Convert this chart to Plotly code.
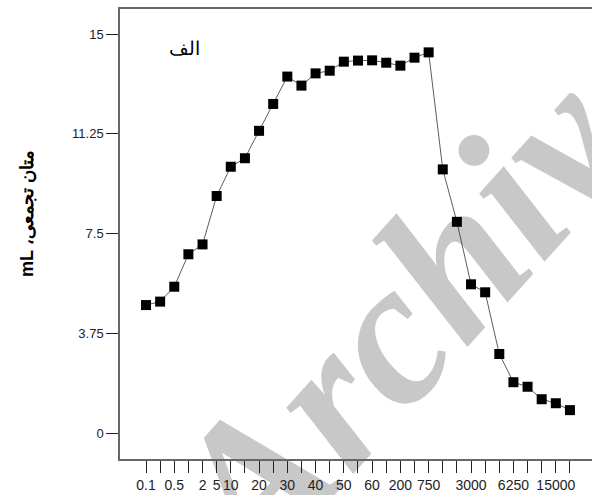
import plotly.graph_objects as go

# ---- data ----
x_labels = ["0.1", "", "0.5", "", "2", "5", "10", "", "20", "", "30", "", "40", "",
            "50", "", "60", "", "200", "", "750", "", "", "3000", "", "", "6250", "",
            "", "15000", ""]
volume = [4.81, 4.94, 5.50, 6.72, 7.09, 8.91, 10.01, 10.33, 11.36, 12.37, 13.40,
          13.06, 13.52, 13.62, 13.96, 14.00, 14.01, 13.92, 13.81, 14.11, 14.31,
          9.91, 7.94, 5.59, 5.29, 2.97, 1.91, 1.74, 1.27, 1.12, 0.86]
y_ticks = [0, 3.75, 7.5, 11.25, 15]
y_ticktext = ["0", "3.75", "7.5", "11.25", "15"]
panel_label = "الف"
y_title = "\u202bمتان تجمعی، mL\u202c"
watermark = "Archive"

x_idx = list(range(len(volume)))

W, H = 592, 495
L, R, T, B = 120, 0, 9, 36
pw, ph = W - L - R, H - T - B

def px(xp):
    return (xp - L) / pw

def py(yp):
    return (H - B - yp) / ph

fig = go.Figure()
fig.add_trace(go.Scatter(
    x=x_idx, y=volume, mode="lines+markers",
    line=dict(color="#333333", width=0.8),
    marker=dict(symbol="square", size=10, color="black"),
    showlegend=False, hoverinfo="skip"))

fig.update_layout(
    width=W, height=H,
    margin=dict(l=L, r=R, t=T, b=B, pad=0),
    paper_bgcolor="white", plot_bgcolor="white",
    font=dict(family="Arial", color="#222222"),
    xaxis=dict(range=[-1.84, 31.56], tickmode="array", tickvals=x_idx, ticktext=x_labels,
               ticks="outside", ticklen=12, tickwidth=1, tickcolor="#222222",
               showline=True, linecolor="#666666", linewidth=1.5, mirror=True,
               showgrid=False, zeroline=False, tickfont=dict(size=14, color="#222222"),
               tickangle=0),
    yaxis=dict(range=[-0.977, 15.94], tickmode="array", tickvals=y_ticks, ticktext=y_ticktext,
               ticks="outside", ticklen=12, tickwidth=1, tickcolor="#222222",
               showline=True, linecolor="#666666", linewidth=1.5, mirror=False,
               showgrid=False, zeroline=False, tickfont=dict(size=13, color="#222222")),
)

fig.add_annotation(x=px(184), y=py(48), xref="paper", yref="paper", text=panel_label,
                   xanchor="center", yanchor="middle",
                   showarrow=False, font=dict(size=19, color="black"))
fig.add_annotation(x=px(27), y=py(214), xref="paper", yref="paper", text=y_title,
                   xanchor="center", yanchor="middle",
                   textangle=-90, showarrow=False,
                   font=dict(size=18, color="black", family="Arial", weight="bold"))

cx, cy = 412, 272
fig.add_shape(type="rect", xref="paper", yref="paper",
              x0=px(cx - 10), x1=px(cx + 10), y0=py(cy + 10), y1=py(cy - 10),
              line=dict(width=0), fillcolor="rgba(0,0,0,0)", layer="below",
              label=dict(text="<b><i>" + watermark + "</i></b>", textangle=-48,
                         textposition="middle center",
                         font=dict(family="Liberation Serif", size=205, color="#c8c8c8",
                                   style="italic", weight="bold")))

fig.write_html("out.html")
